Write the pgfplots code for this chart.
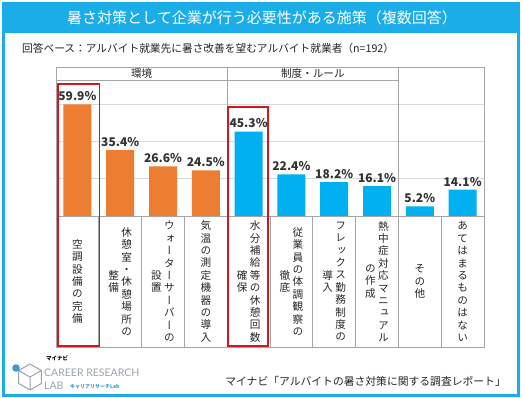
\documentclass[border=0pt]{standalone}
\usepackage{pgfplots}
\pgfplotsset{compat=1.18}
\usepackage{fontspec}
\setmainfont{Noto Sans CJK JP}
\newfontfamily\vfont[RawFeature=+vert]{Noto Sans CJK JP}
\newfontfamily\latofont{Lato}
\definecolor{barO}{HTML}{ED7D31}
\definecolor{barB}{HTML}{00B0F0}
\definecolor{frameC}{HTML}{1AADE8}
\definecolor{redbox}{HTML}{D0181E}
\definecolor{tline}{HTML}{A6A6A6}
\definecolor{gline}{HTML}{D9D9D9}
\definecolor{logoG}{HTML}{9AA3AD}
\definecolor{logoB}{HTML}{3A9AD8}
\tikzset{vl/.style={align=center, font=\vfont\fontsize{10.6}{12.4}\selectfont, text=black!85, inner sep=0pt}}
\begin{document}
\begin{tikzpicture}
\useasboundingbox (0pt,0pt) rectangle (524pt,398pt);
\fill[white] (0pt,0pt) rectangle (524pt,398pt);
\fill[frameC] (2pt,365pt) rectangle (520pt,396pt);
\draw[frameC, line width=3pt] (3.5pt,2.5pt) rectangle (518.5pt,394.5pt);
\node[text=white, font=\fontsize{15}{15}\selectfont] at (262pt,380.5pt) {暑さ対策として企業が行う必要性がある施策（複数回答）};
\node[anchor=west, font=\fontsize{10.7}{10.7}\selectfont, text=black!85, inner sep=0pt] at (22pt,350pt) {回答ベース：アルバイト就業先に暑さ改善を望むアルバイト就業者（n=192）};

\begin{axis}[
  at={(56pt,182pt)}, anchor=south west,
  scale only axis, width=428pt, height=149pt,
  xmin=0.5, xmax=10.5, ymin=0, ymax=80,
  axis line style={draw=none},
  xtick=\empty, ytick={20,40,60}, yticklabels=\empty,
  major tick length=0pt,
  ymajorgrids, grid style={gline, line width=0.8pt},
  clip=false,
  ybar, bar width=28pt, bar shift=0pt,
  nodes near coords={\pgfmathprintnumber{\pgfplotspointmeta}\%},
  every node near coord/.append style={font=\fontsize{12}{12}\selectfont\bfseries, text=black!80},
  /pgf/number format/.cd, fixed, fixed zerofill, precision=1, assume math mode=true,
]
\addplot[fill=barO, draw=none] coordinates {(1,59.9) (2,35.4) (3,26.6) (4,24.5)};
\addplot[fill=barB, draw=none] coordinates {(5,45.3) (6,22.4) (7,18.2) (8,16.1) (9,5.2) (10,14.1)};

\draw[tline, line width=0.8pt] (axis cs:0.5,80) -- (axis cs:10.5,80) -- (axis cs:10.5,-70.3) -- (axis cs:0.5,-70.3) -- cycle;
\draw[tline, line width=0.8pt] (axis cs:0.5,72.6) -- (axis cs:8.5,72.6);
\draw[tline, line width=0.8pt] (axis cs:4.5,80) -- (axis cs:4.5,-70.3);
\draw[tline, line width=0.8pt] (axis cs:8.5,80) -- (axis cs:8.5,-70.3);
\draw[tline, line width=0.8pt] (axis cs:0.5,0) -- (axis cs:10.5,0);
\pgfplotsinvokeforeach{1.5,2.5,3.5,5.5,6.5,7.5,9.5}{\draw[tline, line width=0.8pt] (axis cs:#1,0) -- (axis cs:#1,-70.3);}

\node[font=\fontsize{10.6}{10.6}\selectfont, text=black!85] at (axis cs:2.5,76.4) {環境};
\node[font=\fontsize{10.6}{10.6}\selectfont, text=black!85] at (axis cs:6.5,76.4) {制度・ルール};

\node[vl] at (axis cs:1,-35.15) {空\\調\\設\\備\\の\\完\\備};
\node[vl, xshift=6.5pt] at (axis cs:2,-35.15) {休\\憩\\室\\・\\休\\憩\\場\\所\\の};
\node[vl, xshift=-6.5pt] at (axis cs:2,-35.15) {整\\備};
\node[vl, xshift=6.5pt] at (axis cs:3,-35.15) {ウ\\ォ\\ー\\タ\\ー\\サ\\ー\\バ\\ー\\の};
\node[vl, xshift=-6.5pt] at (axis cs:3,-35.15) {設\\置};
\node[vl] at (axis cs:4,-35.15) {気\\温\\の\\測\\定\\機\\器\\の\\導\\入};
\node[vl, xshift=6.5pt] at (axis cs:5,-35.15) {水\\分\\補\\給\\等\\の\\休\\憩\\回\\数};
\node[vl, xshift=-6.5pt] at (axis cs:5,-35.15) {確\\保};
\node[vl, xshift=6.5pt] at (axis cs:6,-35.15) {従\\業\\員\\の\\体\\調\\観\\察\\の};
\node[vl, xshift=-6.5pt] at (axis cs:6,-35.15) {徹\\底};
\node[vl, xshift=6.5pt] at (axis cs:7,-35.15) {フ\\レ\\ッ\\ク\\ス\\勤\\務\\制\\度\\の};
\node[vl, xshift=-6.5pt] at (axis cs:7,-35.15) {導\\入};
\node[vl, xshift=6.5pt] at (axis cs:8,-35.15) {熱\\中\\症\\対\\応\\マ\\ニ\\ュ\\ア\\ル};
\node[vl, xshift=-6.5pt] at (axis cs:8,-35.15) {の\\作\\成};
\node[vl] at (axis cs:9,-35.15) {そ\\の\\他};
\node[vl] at (axis cs:10,-35.15) {あ\\て\\は\\ま\\る\\も\\の\\は\\な\\い};

\draw[redbox, line width=1.6pt] (axis cs:0.55,70.9) rectangle (axis cs:1.52,-69.8);
\draw[redbox, line width=1.6pt] (axis cs:4.52,58.5) rectangle (axis cs:5.45,-69.8);
\end{axis}

% logo
\draw[logoG, line width=1pt, line join=round] (30pt,34pt) -- (41.3pt,27.5pt) -- (41.3pt,14.5pt) -- (30pt,8pt) -- (18.7pt,14.5pt) -- (18.7pt,27.5pt) -- cycle;
\draw[logoG, line width=1pt] (30pt,21pt) -- (41.3pt,27.5pt) (30pt,21pt) -- (18.7pt,27.5pt) (30pt,21pt) -- (30pt,8pt);
\fill[logoB] (16pt,30pt) circle (3.8pt);
\node[anchor=west, inner sep=0pt, font=\fontsize{5.5}{5.5}\selectfont\bfseries] at (46pt,40pt) {マイナビ};
\node[anchor=west, inner sep=0pt, text=logoG, font=\latofont\fontsize{10.5}{10.5}\selectfont] at (44pt,25pt) {CAREER RESEARCH};
\node[anchor=west, inner sep=0pt, text=logoG, font=\latofont\fontsize{10.5}{10.5}\selectfont] at (44pt,12pt) {LAB};
\node[anchor=west, inner sep=0pt, text=logoB, font=\fontsize{5}{5}\selectfont\bfseries] at (70pt,11.5pt) {キャリアリサーチLab};

\node[anchor=east, inner sep=0pt, font=\fontsize{10.8}{10.8}\selectfont, text=black!85] at (506pt,17pt) {マイナビ「アルバイトの暑さ対策に関する調査レポート」};
\end{tikzpicture}
\end{document}
